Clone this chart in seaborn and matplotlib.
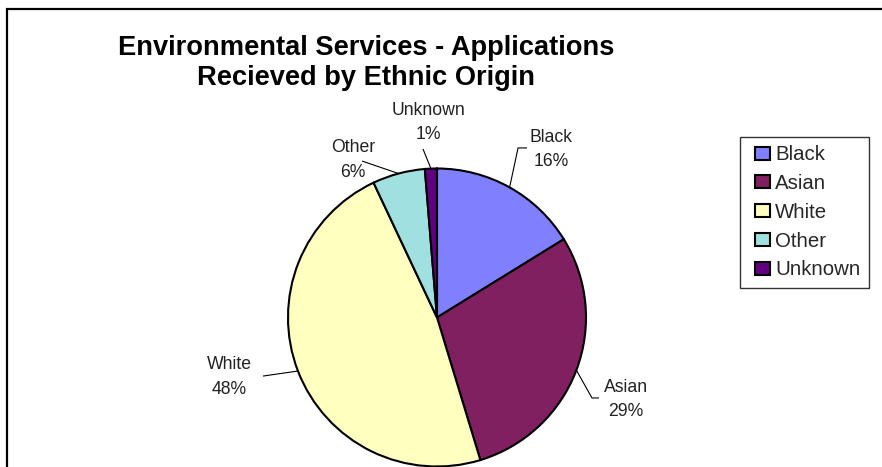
import matplotlib
matplotlib.use("Agg")
import matplotlib.pyplot as plt
import matplotlib.patches as mpatches
from matplotlib.legend_handler import HandlerPatch
import seaborn as sns
import numpy as np

# ---- data ----
categories = ["Black", "Asian", "White", "Other", "Unknown"]
shares = [16.2, 29.1, 47.7, 5.7, 1.3]
pct_labels = ["16%", "29%", "48%", "6%", "1%"]
title_text = "Environmental Services - Applications\nRecieved by Ethnic Origin"

# ---- style ----
colors = ["#8080FF", "#802060", "#FFFFC0", "#A0E0E0", "#600080"]
sns.set_theme(style="white")
plt.rcParams["font.family"] = ["Liberation Sans", "DejaVu Sans"]
palette = sns.color_palette(colors)

# label layout (data units, pie radius = 1)
label_pos = {
    "Black": (0.765, 1.128),
    "Asian": (1.268, -0.550),
    "White": (-1.396, -0.402),
    "Other": (-0.564, 1.057),
    "Unknown": (-0.060, 1.309),
}
leader_pts = {
    "Black": [(0.544, 1.138), (0.604, 1.138)],
    "Asian": [(1.040, -0.540), (1.087, -0.540)],
    "White": [(-1.168, -0.393)],
    "Other": [(-0.503, 1.050)],
    "Unknown": [(-0.094, 1.131)],
}

W, H = 882, 467
fig = plt.figure(figsize=(W / 100, H / 100), dpi=100)
fig.patch.set_facecolor("white")
ax = fig.add_axes([0, 0, 1, 1])

wedges, _ = ax.pie(shares, colors=palette, startangle=90, counterclock=False,
                   radius=1.0, center=(0, 0),
                   wedgeprops=dict(edgecolor="black", linewidth=1.5))

cx, cy, R = 437, 317.5, 149.0
ax.set_xlim(-cx / R, (W - cx) / R)
ax.set_ylim(-(H - cy) / R, cy / R)
ax.set_aspect("auto")
ax.axis("off")

for w, cat, pct in zip(wedges, categories, pct_labels):
    mid = np.deg2rad((w.theta1 + w.theta2) / 2)
    start = (np.cos(mid), np.sin(mid))
    pts = [start] + leader_pts[cat]
    xs, ys = zip(*pts)
    ax.plot(xs, ys, color="black", lw=0.8, solid_capstyle="butt")
    lx, ly = label_pos[cat]
    ax.text(lx, ly, f"{cat}\n{pct}", ha="center", va="center",
            fontsize=12.7, linespacing=1.6, color="#222222")

fig.text(366 / W, 1 - 63 / H, title_text, ha="center", va="center",
         fontsize=19.6, fontweight="bold", linespacing=1.2, color="black")


def square_patch(legend, orig_handle, xdescent, ydescent, width, height, fontsize):
    sw, sh = 10.8, 9.4
    return mpatches.Rectangle((-xdescent + width - sw, -ydescent + (height - sh) / 2),
                              sw, sh)


handles = [mpatches.Patch(facecolor=c, edgecolor="black", linewidth=1.5, label=l)
           for c, l in zip(palette, categories)]
leg = fig.legend(handles=handles, loc="upper left",
                 bbox_to_anchor=(740 / W, 1 - 137 / H),
                 fontsize=14.7, frameon=True, fancybox=False,
                 handlelength=1.08, handleheight=0.75, handletextpad=0.25,
                 labelspacing=0.48, borderpad=0.4, borderaxespad=0,
                 handler_map={mpatches.Patch: HandlerPatch(patch_func=square_patch)})
leg.get_frame().set_edgecolor("black")
leg.get_frame().set_linewidth(1.0)

border = mpatches.Rectangle((7 / W, -0.1), 1.2, 1 - 9 / H + 0.1,
                            transform=fig.transFigure, fill=False,
                            edgecolor="black", linewidth=1.6)
fig.patches.append(border)

fig.savefig("out.png", dpi=100)
